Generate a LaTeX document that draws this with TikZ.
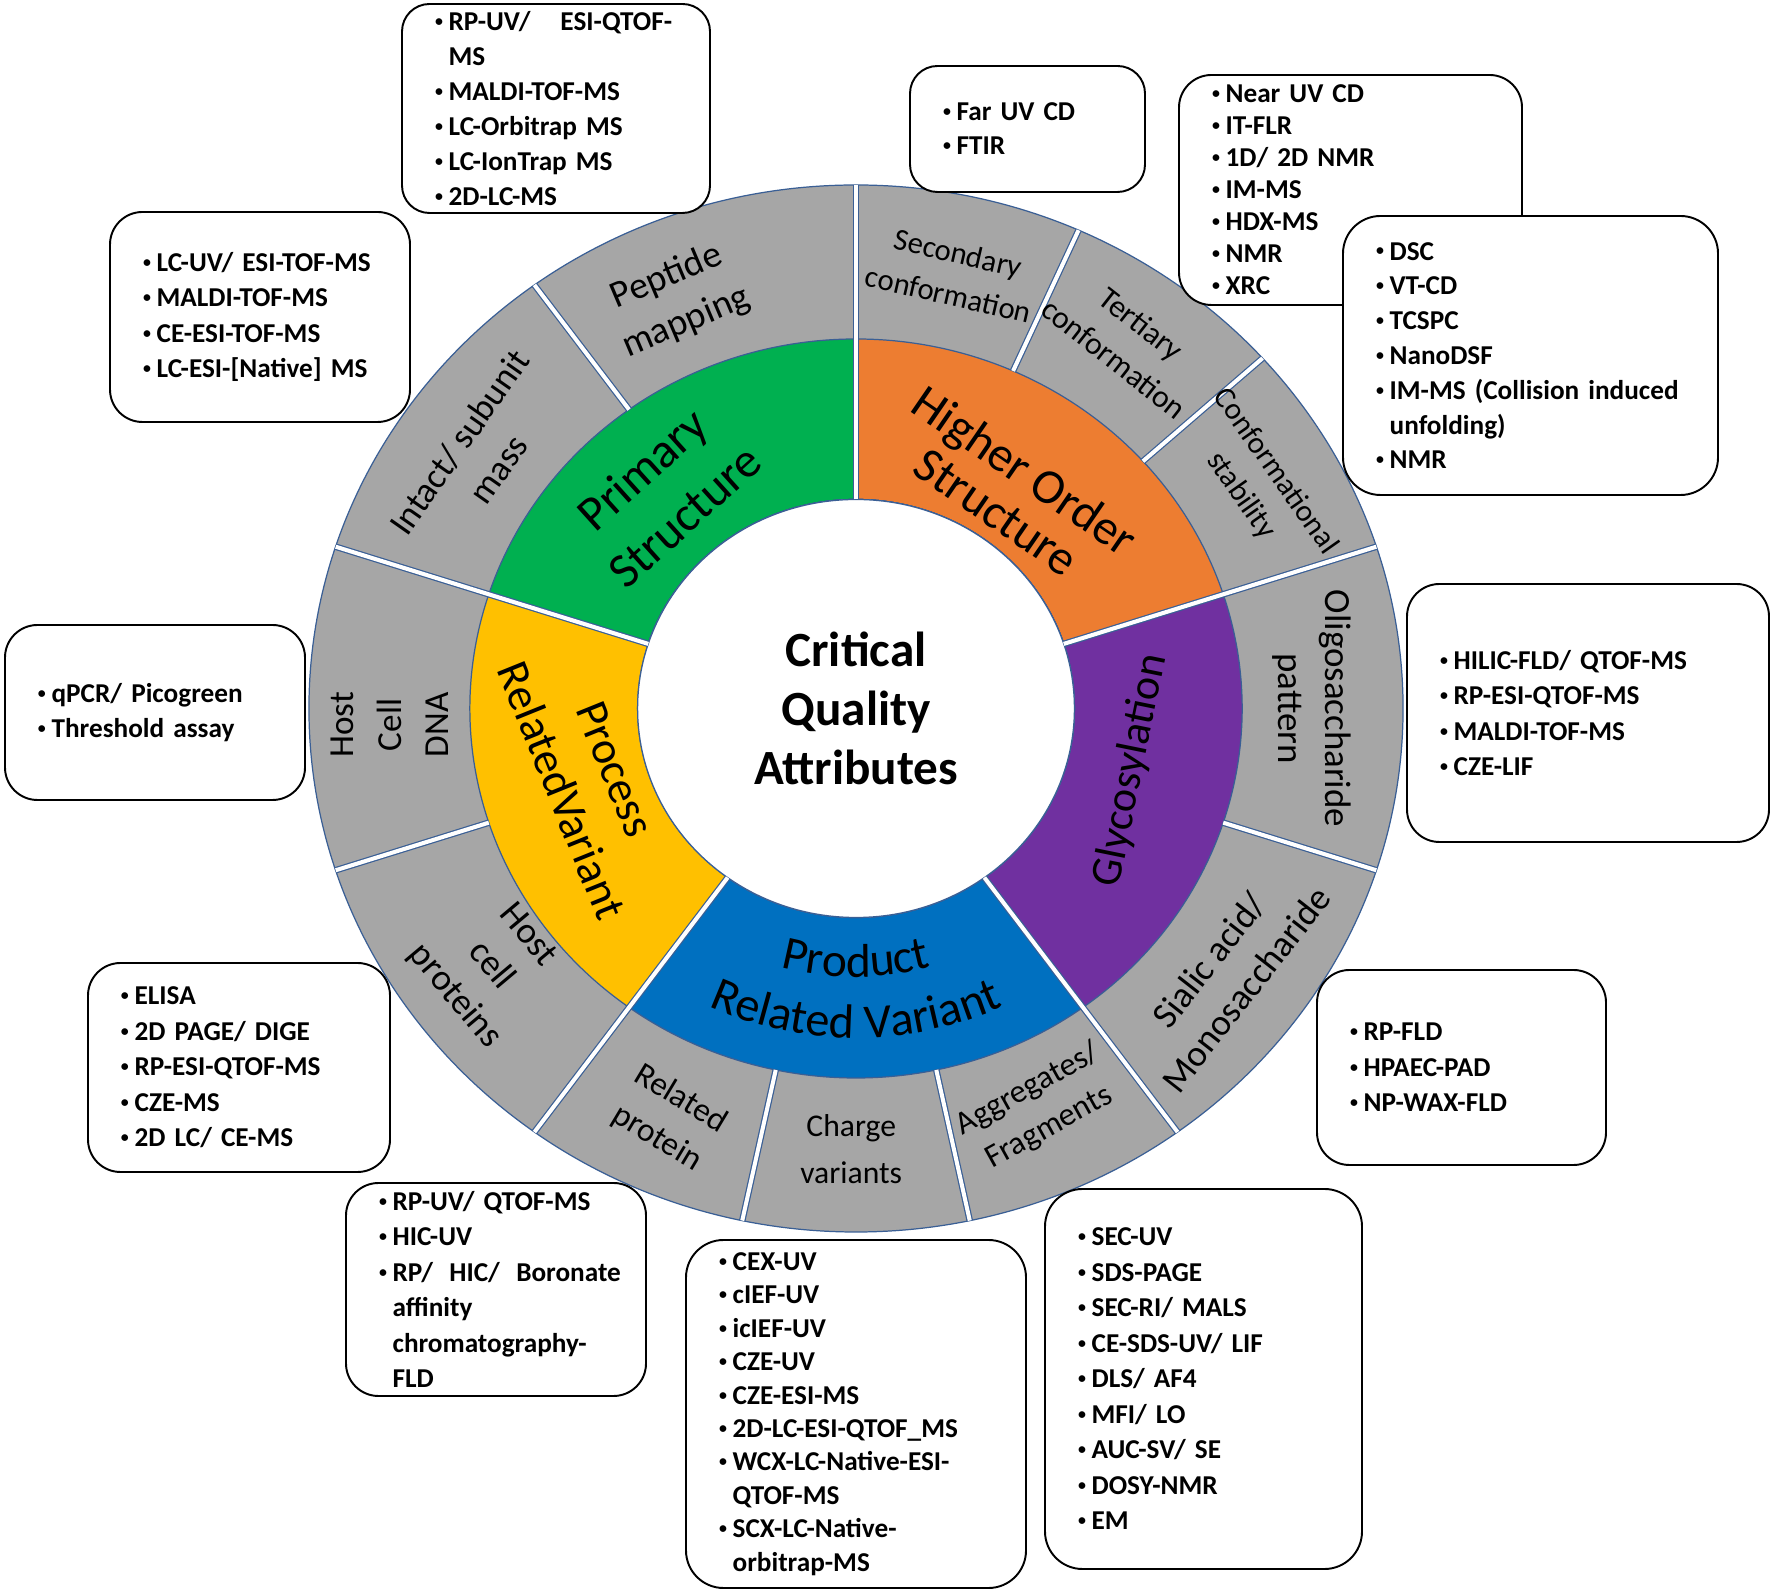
\documentclass[tikz,border=0pt]{standalone}
\usepackage{fontspec}
\setmainfont{Carlito}
\usetikzlibrary{decorations.text}

\definecolor{primgreen}{HTML}{00B050}
\definecolor{hosorange}{HTML}{ED7D31}
\definecolor{glypurple}{HTML}{7030A0}
\definecolor{prodblue}{HTML}{0070C0}
\definecolor{procyellow}{HTML}{FFC000}
\definecolor{attrgrey}{HTML}{A6A6A6}
\definecolor{segline}{HTML}{3A5F95}

\exhyphenpenalty=10000
\hyphenpenalty=10000

\newcommand{\bul}{\makebox[0.5em][l]{\raisebox{2.3pt}{\fontsize{9}{9}\selectfont\textbullet}}}
\newcommand{\cnt}{\hspace*{0.5em}}
% annular sector: colour, start angle, end angle, inner radius, outer radius
\newcommand{\ringseg}[5]{%
  \filldraw[ringedge, fill=#1] (#2:#4) arc[start angle=#2, end angle=#3, radius=#4]
    -- (#3:#5) arc[start angle=#3, end angle=#2, radius=#5] -- cycle;}

\tikzset{
  ringedge/.style={draw=segline, line width=0.7pt},
  gapline/.style={draw=segline, line width=0.7pt, double=white, double distance=2.3pt},
  sublabel/.style={align=center, inner sep=0pt},
  corelabel/.style={align=center, inner sep=0pt},
  methodbox/.style={draw=black, fill=white, line width=1.1pt, rounded corners=6.5mm,
    align=left, inner xsep=6.6mm, inner ysep=0pt,
    font=\bfseries\fontsize{15.5}{20.2}\selectfont},
}

\begin{document}
\begin{tikzpicture}[x=0.2mm, y=0.2mm]
    \useasboundingbox (0,0) rectangle (1772,1594);
    % ── Ring ────────────────────────────────────────────────────────────────
    \begin{scope}[shift={(856,885.5)}, xscale=1.045]
      \filldraw[ringedge, fill=attrgrey] (0,0) circle[radius=523.5];
      \foreach \col/\a/\b in {primgreen/90/162, hosorange/18/90, glypurple/-54/18,
                              prodblue/-126/-54, procyellow/162/234}
        \ringseg{\col}{\a}{\b}{209}{369.5}
      \filldraw[ringedge, fill=white] (0,0) circle[radius=209];
      % white gaps between the parts
      \foreach \a in {90,18,-54,-126,162}
        \draw[gapline] (\a:209) -- (\a:523.5);
      \foreach \a in {126,66,42,-18,-78,-102,198}
        \draw[gapline] (\a:369.5) -- (\a:523.5);
      % ── Outer labels ──────────────────────────────────────────────────────
      \node[sublabel, font=\fontsize{21.5}{28}\selectfont, rotate=23] (pepmap)
        at (112.8:443.5) {Peptide\\mapping};
      \node[sublabel, font=\fontsize{20.5}{27}\selectfont, rotate=55] (intact)
        at (145:441) {Intact/ subunit\\mass};
      \node[sublabel, font=\fontsize{17.5}{24}\selectfont, rotate=-13] (secconf)
        at (77.9:444.7) {Secondary\\conformation};
      \node[sublabel, font=\fontsize{18}{25}\selectfont, rotate=-38] (terconf)
        at (54.7:450) {Tertiary\\conformation};
      \node[sublabel, font=\fontsize{17.5}{24}\selectfont, rotate=-55] (confstab)
        at (30.3:445.8) {Conformational\\stability};
      \node[sublabel, font=\fontsize{21}{27}\selectfont, rotate=-90] (oligo)
        at (0:436) {Oligosaccharide\\pattern};
      \node[sublabel, font=\fontsize{21}{27}\selectfont, rotate=52] (sialic)
        at (-36.8:444) {Sialic acid/\\Monosaccharide};
      \node[sublabel, font=\fontsize{18.5}{25}\selectfont, rotate=29] (aggr)
        at (-66.4:436.5) {Aggregates/\\Fragments};
      \node[sublabel, font=\fontsize{18}{26.5}\selectfont] (charge)
        at (-90.6:440.5) {Charge\\variants};
      \node[sublabel, font=\fontsize{19}{26}\selectfont, rotate=-31] (relprot)
        at (-113.6:447.6) {Related\\protein};
      \node[sublabel, font=\fontsize{21}{27}\selectfont, rotate=-50] (hcp)
        at (216.4:434.2) {Host\\cell\\proteins};
      \node[sublabel, font=\fontsize{20}{27}\selectfont, rotate=90] (hcdna)
        at (182.1:446.3) {Host\\Cell\\DNA};
      % ── Inner labels ──────────────────────────────────────────────────────
      \node[corelabel, font=\fontsize{28}{36}\selectfont, rotate=42] (primary)
        at (130.5:284) {Primary\\Structure};
      \node[corelabel, font=\fontsize{28}{28.5}\selectfont, rotate=-34.5] (higher)
        at (55.7:263.5) {Higher Order\\Structure};
      \node[corelabel, font=\fontsize{25}{27}\selectfont, rotate=78.5] (glyco)
        at (-13.2:270) {Glycosylation};
      \node[corelabel, font=\fontsize{26}{33}\selectfont, rotate=-68] (process)
        at (195.6:266.3) {Process\\RelatedVariant};
      % curved text in the blue part
      \path[decorate, decoration={text along path, text align=center,
          text={|\fontsize{27}{27}\selectfont|Product}}]
        (-125:268.5) arc[start angle=-125, end angle=-55, radius=268.5];
      \path[decorate, decoration={text along path, text align=center,
          text={|\fontsize{27.5}{27.5}\selectfont|Related Variant}}]
        (-125:329.5) arc[start angle=-125, end angle=-55, radius=329.5];
      % centre
      \node[align=center, font=\bfseries\fontsize{28}{33.6}\selectfont] (cqa)
        at (0,0) {Critical\\Quality\\Attributes};
    \end{scope}
    % ── Method boxes ────────────────────────────────────────────────────────
    \node[methodbox, rounded corners=5.5mm, minimum width=61.6mm, minimum height=41.8mm,
      text width=48.4mm, font=\bfseries\fontsize{15.5}{19.9}\selectfont]
      (pepbox) at (556,1485.5)
      {\bul RP-UV/\nobreak\hspace{1.1em}ESI-QTOF-\\ \cnt MS\\ \bul MALDI-TOF-MS\\
       \bul LC-Orbitrap~MS\\ \bul LC-IonTrap~MS\\ \bul 2D-LC-MS};
    \node[methodbox, minimum width=60mm, minimum height=42mm, text width=46.8mm]
      (intactbox) at (260,1277)
      {\bul LC-UV/~ESI-TOF-MS\\ \bul MALDI-TOF-MS\\ \bul CE-ESI-TOF-MS\\
       \bul LC-ESI-[Native]~MS};
    \node[methodbox, rounded corners=5.5mm, minimum width=47mm, minimum height=25.2mm,
      text width=33.8mm, font=\bfseries\fontsize{15.5}{19.3}\selectfont]
      (secbox) at (1027.5,1465)
      {\bul Far~UV~CD\\ \bul FTIR};
    \node[methodbox, minimum width=68.6mm, minimum height=46mm, text width=55.4mm,
      font=\bfseries\fontsize{15.5}{18.2}\selectfont] (terbox) at (1350.5,1404)
      {\bul Near~UV~CD\\ \bul IT-FLR\\ \bul 1D/~2D~NMR\\ \bul IM-MS\\ \bul HDX-MS\\
       \bul NMR\\ \bul XRC};
    \node[methodbox, rounded corners=7.5mm, minimum width=75mm, minimum height=55.8mm,
      text width=61.8mm, font=\bfseries\fontsize{15.5}{19.8}\selectfont]
      (stabbox) at (1530.5,1238.5)
      {\bul DSC\\ \bul VT-CD\\ \bul TCSPC\\ \bul NanoDSF\\
       \bul IM-MS~(Collision~induced\\ \cnt unfolding)\\ \bul NMR};
    \node[methodbox, minimum width=60mm, minimum height=35mm, text width=46.8mm,
      font=\bfseries\fontsize{15.5}{19.9}\selectfont] (hcdnabox) at (155,881.5)
      {\bul qPCR/~Picogreen\\ \bul Threshold~assay};
    \node[methodbox, minimum width=72.4mm, minimum height=51.6mm, text width=59.2mm]
      (oligobox) at (1588,881)
      {\bul HILIC-FLD/~QTOF-MS\\ \bul RP-ESI-QTOF-MS\\ \bul MALDI-TOF-MS\\ \bul CZE-LIF};
    \node[methodbox, minimum width=60.4mm, minimum height=41.8mm, text width=47.2mm]
      (hcpbox) at (239,526.5)
      {\bul ELISA\\ \bul 2D~PAGE/~DIGE\\ \bul RP-ESI-QTOF-MS\\ \bul CZE-MS\\
       \bul 2D~LC/~CE-MS};
    \node[methodbox, minimum width=57.8mm, minimum height=39mm, text width=44.6mm]
      (sialicbox) at (1461.5,526.5)
      {\bul RP-FLD\\ \bul HPAEC-PAD\\ \bul NP-WAX-FLD};
    \node[methodbox, minimum width=60mm, minimum height=42.6mm, text width=46.8mm]
      (relbox) at (496,304.5)
      {\bul RP-UV/~QTOF-MS\\ \bul HIC-UV\\
       \bul RP/\nobreak\hspace{0.6em}HIC/\nobreak\hspace{0.6em}Boronate\\
       \cnt affinity\\ \cnt chromatography-\\ \cnt FLD};
    \node[methodbox, rounded corners=7.5mm, minimum width=68mm, minimum height=69.6mm,
      text width=54.8mm, font=\bfseries\fontsize{15.5}{19}\selectfont]
      (chargebox) at (856,180)
      {\bul CEX-UV\\ \bul cIEF-UV\\ \bul icIEF-UV\\ \bul CZE-UV\\ \bul CZE-ESI-MS\\
       \bul 2D-LC-ESI-QTOF\_MS\\ \bul WCX-LC-Native-ESI-\\ \cnt QTOF-MS\\
       \bul SCX-LC-Native-\\ \cnt orbitrap-MS};
    \node[methodbox, rounded corners=7.5mm, minimum width=63.4mm, minimum height=76mm,
      text width=50.2mm] (aggrbox) at (1203.5,215)
      {\bul SEC-UV\\ \bul SDS-PAGE\\ \bul SEC-RI/~MALS\\ \bul CE-SDS-UV/~LIF\\
       \bul DLS/~AF4\\ \bul MFI/~LO\\ \bul AUC-SV/~SE\\ \bul DOSY-NMR\\ \bul EM};
\end{tikzpicture}
\end{document}
